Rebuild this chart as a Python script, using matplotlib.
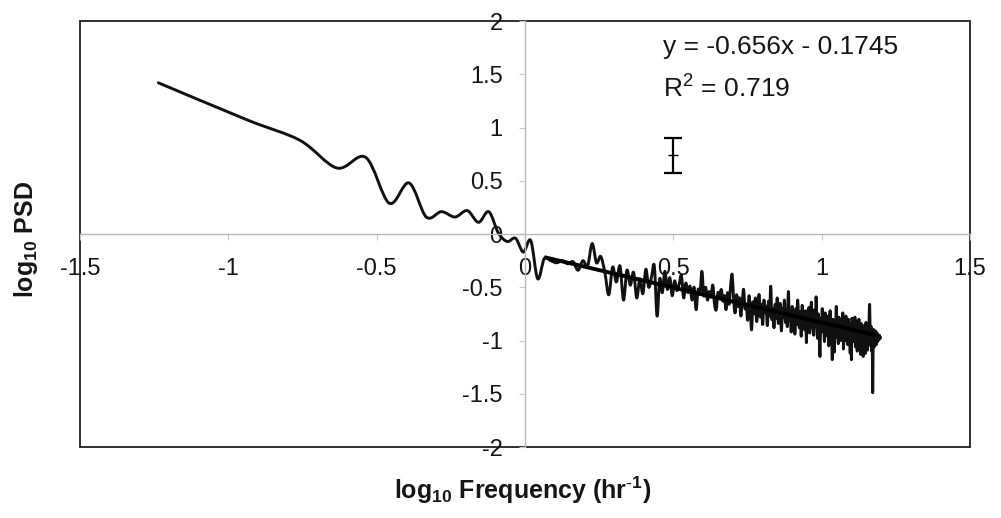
import numpy as np
import matplotlib
matplotlib.use('Agg')
import matplotlib.pyplot as plt
from matplotlib.path import Path
from matplotlib.patches import PathPatch, Rectangle
from matplotlib.ticker import FormatStrFormatter

plt.rcParams['font.family'] = ['Liberation Sans', 'DejaVu Sans']
plt.rcParams['mathtext.fontset'] = 'custom'
plt.rcParams['mathtext.rm'] = 'Liberation Sans'
plt.rcParams['mathtext.bf'] = 'Liberation Sans:bold'

# frequency step of the spectrum (hr^-1)
df = 0.0581

# log10 PSD, one value per frequency bin
log_psd = [
    1.42, 1.07, 0.88, 0.62, 0.72, 0.29, 0.48, 0.16, 0.21, 0.16,
    0.22, 0.11, 0.21, 0.01, -0.07, -0.04, -0.17, -0.06, -0.42, -0.23,
    -0.25, -0.27, -0.25, -0.28, -0.26, -0.34, -0.25, -0.30, -0.09, -0.27,
    -0.21, -0.36, -0.57, -0.31, -0.45, -0.30, -0.62, -0.34, -0.48, -0.36,
    -0.60, -0.42, -0.56, -0.33, -0.50, -0.40, -0.30, -0.77, -0.42, -0.55,
    -0.35, -0.52, -0.41, -0.58, -0.44, -0.53, -0.47, -0.39, -0.60, -0.46,
    -0.55, -0.49, -0.62, -0.50, -0.71, -0.52, -0.56, -0.35, -0.58, -0.50,
    -0.62, -0.54, -0.59, -0.48, -0.66, -0.71, -0.55, -0.60, -0.52, -0.63,
    -0.58, -0.71, -0.55, -0.66, -0.48, -0.38, -0.62, -0.74, -0.57, -0.68,
    -0.60, -0.77, -0.63, -0.52, -0.70, -0.66, -0.81, -0.58, -0.72, -0.90,
    -0.64, -0.75, -0.60, -0.82, -0.69, -0.57, -0.78, -0.66, -0.85, -0.62,
    -0.74, -0.68, -0.86, -0.63, -0.77, -0.49, -0.80, -0.70, -0.88, -0.66,
    -0.79, -0.60, -0.84, -0.72, -0.66, -0.91, -0.70, -0.78, -0.62, -0.83,
    -0.71, -0.87, -0.54, -0.80, -0.74, -0.92, -0.68, -0.82, -0.76, -0.94,
    -0.70, -0.85, -0.62, -0.79, -0.88, -0.73, -0.96, -0.67, -0.83, -0.77,
    -0.90, -0.72, -1.02, -0.76, -0.86, -0.69, -0.93, -0.80, -0.64, -0.88,
    -0.78, -0.95, -0.71, -0.87, -0.59, -0.84, -0.98, -0.75, -0.90, -1.15,
    -0.80, -0.92, -0.70, -0.88, -0.83, -1.01, -0.74, -0.90, -0.79, -0.96,
    -0.77, -1.05, -0.84, -0.72, -0.93, -0.86, -1.18, -0.80, -0.95, -1.11,
    -0.82, -0.90, -0.68, -0.97, -0.85, -1.03, -0.78, -0.92, -0.88, -1.00,
    -0.81, -0.96, -0.74, -1.08, -0.89, -0.83, -1.00, -0.77, -0.94, -0.86,
    -1.04, -0.80, -0.97, -0.88, -1.12, -0.84, -1.18, -0.79, -0.93, -1.01,
    -0.85, -0.99, -0.78, -1.06, -0.91, -0.82, -1.10, -0.87, -0.96, -0.80,
    -1.03, -0.89, -1.13, -0.84, -0.98, -0.92, -1.07, -1.15, -0.86, -0.97,
    -0.90, -1.12, -0.83, -1.02, -0.94, -1.09, -0.88, -1.00, -0.79, -0.66,
    -0.95, -1.05, -0.87, -1.10, -0.92, -1.49, -0.99, -0.90, -1.06, -0.94,
    -0.98, -0.91, -1.04, -0.96, -0.93, -1.01, -0.97, -0.95, -0.99, -0.96,
    -0.98, -0.97,
]

# linear trend fitted from this bin onwards
fit_start = 19
slope = -0.656
intercept = -0.1745
r_squared = 0.719

# error bar
err_x = 0.5
err_y = 0.74
err_half = 0.165

xticks = [-1.5, -1, -0.5, 0, 0.5, 1, 1.5]
yticks = [-2, -1.5, -1, -0.5, 0, 0.5, 1, 1.5, 2]

log_f = np.log10(df * np.arange(1, len(log_psd) + 1))
y = np.array(log_psd)


def smooth_path(x, y):
    # excel style smoothed line (catmull-rom through the points)
    pts = np.column_stack([x, y])
    ext = np.vstack([pts[0], pts, pts[-1]])
    verts = [pts[0]]
    codes = [Path.MOVETO]
    for i in range(len(pts) - 1):
        p0, p1, p2, p3 = ext[i], ext[i + 1], ext[i + 2], ext[i + 3]
        verts += [p1 + (p2 - p0) / 6, p2 - (p3 - p1) / 6, p2]
        codes += [Path.CURVE4] * 3
    return Path(verts, codes)


fig = plt.figure(figsize=(10.01, 5.18), dpi=100)
ax = fig.add_axes([0.0799, 0.137, 0.889, 0.8224])
ax.set_xlim(-1.5, 1.5)
ax.set_ylim(-2, 2)

ax.add_patch(PathPatch(smooth_path(log_f, y), fill=False, lw=2.1,
                       edgecolor='#111111', joinstyle='round', capstyle='round'))

xs = log_f[[fit_start, -1]]
ax.plot(xs, slope * xs + intercept, color='black', lw=2.8, solid_capstyle='butt')

ax.errorbar(err_x, err_y, yerr=err_half, fmt='_', color='black', ms=7,
            capsize=6.5, elinewidth=1.6, capthick=1.6)

ax.text(0.465, 1.756, f'y = {slope}x - {abs(intercept)}', fontsize=19,
        va='center', color='#151515')
ax.text(0.465, 1.37, r'R$^2$ = ' + f'{r_squared}', fontsize=19,
        va='center', color='#151515')

# axes crossing at the origin
for s in ['top', 'right']:
    ax.spines[s].set_visible(False)
ax.spines['left'].set_position(('data', 0))
ax.spines['bottom'].set_position(('data', 0))
for s in ['left', 'bottom']:
    ax.spines[s].set_color('#b8b8b8')
    ax.spines[s].set_linewidth(1.0)
ax.add_patch(Rectangle((0, 0), 1, 1, transform=ax.transAxes, fill=False,
                       edgecolor='#202020', lw=1.3, clip_on=False))

ax.set_xticks(xticks)
ax.set_yticks(yticks)
ax.xaxis.set_major_formatter(FormatStrFormatter('%g'))
ax.yaxis.set_major_formatter(FormatStrFormatter('%g'))
ax.tick_params(axis='both', direction='out', length=4, color='#c8c8c8',
               labelsize=17, labelcolor='#151515')
ax.tick_params(axis='x', pad=13)
ax.tick_params(axis='y', pad=12)

fig.text(0.5225, 0.054, r'log$_{\mathbf{10}}$ Frequency (hr$^{\text{-}\mathbf{1}}$)',
         fontsize=18, fontweight='bold', ha='center', va='center', color='#151515')
fig.text(0.026, 0.537, r'log$_{\mathbf{10}}$ PSD', fontsize=18,
         fontweight='bold', ha='center', va='center', rotation=90, color='#151515')

fig.savefig('out.png', dpi=100, facecolor='white')
